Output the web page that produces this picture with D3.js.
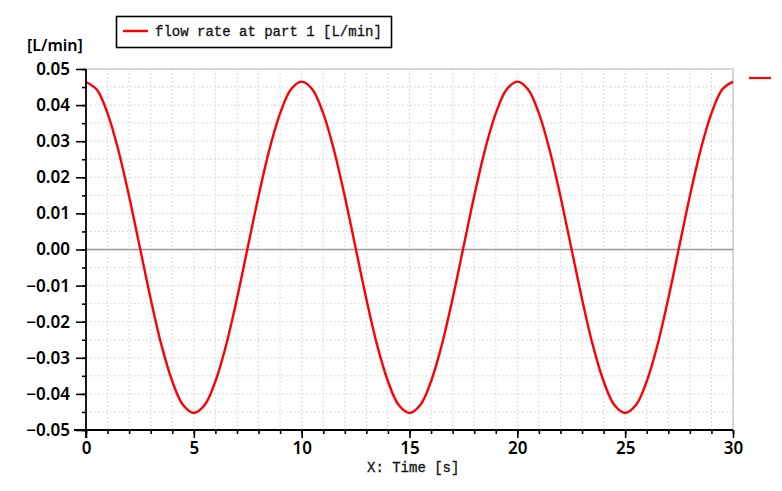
<!DOCTYPE html>
<html>
<head>
<meta charset="utf-8">
<script src="https://cdn.jsdelivr.net/npm/d3@7"></script>
<style>
  html, body { margin: 0; padding: 0; background: #fff; }
  svg { display: block; }
</style>
</head>
<body>
<div id="chart"></div>
<script>
// time samples [s] and flow rate values [L/min]
const time = [
  0, 0.5, 1, 1.5, 2, 2.5, 3, 3.5, 4, 4.5,
  5, 5.5, 6, 6.5, 7, 7.5, 8, 8.5, 9, 9.5,
  10, 10.5, 11, 11.5, 12, 12.5, 13, 13.5, 14, 14.5,
  15, 15.5, 16, 16.5, 17, 17.5, 18, 18.5, 19, 19.5,
  20, 20.5, 21, 21.5, 22, 22.5, 23, 23.5, 24, 24.5,
  25, 25.5, 26, 26.5, 27, 27.5, 28, 28.5, 29, 29.5, 30
];
const flow = [
  0.0464, 0.0443, 0.0377, 0.0275, 0.0147, 0.0005, -0.0137, -0.0265, -0.0365, -0.0431,
  -0.0453, -0.0431, -0.0365, -0.0264, -0.0136, 0.0006, 0.0148, 0.0276, 0.0377, 0.0443,
  0.0465, 0.0443, 0.0377, 0.0275, 0.0147, 0.0005, -0.0137, -0.0265, -0.0365, -0.0431,
  -0.0453, -0.0431, -0.0365, -0.0264, -0.0136, 0.0006, 0.0148, 0.0276, 0.0377, 0.0443,
  0.0465, 0.0443, 0.0377, 0.0275, 0.0147, 0.0005, -0.0137, -0.0265, -0.0365, -0.0431,
  -0.0453, -0.0431, -0.0365, -0.0264, -0.0136, 0.0006, 0.0148, 0.0276, 0.0377, 0.0443, 0.0465
];
const xTicks = [0, 5, 10, 15, 20, 25, 30];
const yTicks = [0.05, 0.04, 0.03, 0.02, 0.01, 0, -0.01, -0.02, -0.03, -0.04, -0.05];
const seriesName = 'flow rate at part 1 [L/min]';
const yLabel = '[L/min]';
const xLabel = 'X: Time [s]';

const width = 782, height = 491;
const margin = {top: 69, right: 49, bottom: 61, left: 86};
const sans = '"Noto Sans", "Noto Sans CJK SC", sans-serif';
const mono = '"Liberation Mono", "DejaVu Sans Mono", monospace';

const x = d3.scaleLinear().domain([0, 30]).range([margin.left, width - margin.right]);
const y = d3.scaleLinear().domain([-0.05, 0.05]).range([height - margin.bottom, margin.top]);

const svg = d3.select('#chart').append('svg')
  .attr('width', width)
  .attr('height', height)
  .attr('viewBox', [0, 0, width, height]);

// dotted grid at every minor step
const xMinor = d3.range(0, 31, 1);
const yMinor = d3.range(-50, 51, 5).map(v => v / 1000);

svg.append('g')
  .attr('stroke', '#cfcfcf')
  .attr('stroke-width', 1)
  .attr('stroke-dasharray', '1.5,2.5')
  .call(g => g.selectAll('line.v')
    .data(xMinor.slice(1, -1))
    .join('line')
    .attr('class', 'v')
    .attr('x1', d => x(d)).attr('x2', d => x(d))
    .attr('y1', y(0.05)).attr('y2', y(-0.05)))
  .call(g => g.selectAll('line.h')
    .data(yMinor.slice(1, -1).filter(d => d !== 0))
    .join('line')
    .attr('class', 'h')
    .attr('x1', x(0)).attr('x2', x(30))
    .attr('y1', d => y(d)).attr('y2', d => y(d)));

// top and right frame
svg.append('path')
  .attr('fill', 'none')
  .attr('stroke', '#c8c8c8')
  .attr('stroke-width', 1.5)
  .attr('d', `M${x(0)},${y(0.05)}H${x(30)}V${y(-0.05)}`);

// zero line
svg.append('line')
  .attr('stroke', '#999')
  .attr('stroke-width', 1.5)
  .attr('x1', x(0)).attr('x2', x(30))
  .attr('y1', y(0)).attr('y2', y(0));

// curve
const line = d3.line()
  .x((d, i) => x(time[i]))
  .y(d => y(d))
  .curve(d3.curveCatmullRom);

svg.append('path')
  .datum(flow)
  .attr('fill', 'none')
  .attr('stroke', '#ff0000')
  .attr('stroke-width', 2.4)
  .attr('d', line);

// x axis
const gx = svg.append('g')
  .attr('transform', `translate(0,${y(-0.05)})`);
gx.call(d3.axisBottom(x).tickValues(xMinor).tickSize(4).tickFormat(''))
  .call(g => g.select('.domain').remove());
gx.append('g')
  .call(d3.axisBottom(x).tickValues(xTicks).tickSize(8).tickPadding(4).tickFormat(d3.format('d')))
  .call(g => g.select('.domain').remove());
gx.append('line')
  .attr('stroke', '#000')
  .attr('stroke-width', 1.8)
  .attr('x1', x(0) - 12).attr('x2', x(30));
gx.selectAll('.tick line').attr('stroke', '#000').attr('stroke-width', 1.6);
gx.selectAll('.tick text')
  .attr('fill', '#000')
  .style('font-family', sans)
  .style('font-size', '17px')
  .style('font-weight', 600);

// y axis
const gy = svg.append('g')
  .attr('transform', `translate(${x(0)},0)`);
gy.call(d3.axisLeft(y).tickValues(yMinor).tickSize(4).tickFormat(''))
  .call(g => g.select('.domain').remove());
gy.append('g')
  .call(d3.axisLeft(y).tickValues(yTicks).tickSize(10).tickPadding(6).tickFormat(d3.format('.2f')))
  .call(g => g.select('.domain').remove());
gy.append('line')
  .attr('stroke', '#000')
  .attr('stroke-width', 1.8)
  .attr('y1', y(0.05)).attr('y2', y(-0.05) + 8);
gy.selectAll('.tick line').attr('stroke', '#000').attr('stroke-width', 1.6);
gy.selectAll('.tick text')
  .attr('fill', '#000')
  .style('font-family', sans)
  .style('font-size', '17px')
  .style('font-weight', 600);

// axis titles
svg.append('text')
  .attr('x', 27)
  .attr('y', 51)
  .style('font-family', sans)
  .style('font-size', '16px')
  .style('font-weight', 600)
  .text(yLabel);

svg.append('text')
  .attr('x', 367)
  .attr('y', 472)
  .style('font-family', mono)
  .style('font-size', '14px')
  .attr('fill', '#111')
  .attr('stroke', '#111')
  .attr('stroke-width', 0.3)
  .text(xLabel);

// legend
const legend = svg.append('g');
legend.append('rect')
  .attr('x', 116.5).attr('y', 16.5)
  .attr('width', 275).attr('height', 31)
  .attr('fill', '#fff')
  .attr('stroke', '#000')
  .attr('stroke-width', 1.6);
legend.append('line')
  .attr('x1', 123).attr('x2', 148)
  .attr('y1', 31).attr('y2', 31)
  .attr('stroke', '#ff0000')
  .attr('stroke-width', 2.4);
legend.append('text')
  .attr('x', 155)
  .attr('y', 36)
  .style('font-family', mono)
  .style('font-size', '14px')
  .attr('fill', '#111')
  .attr('stroke', '#111')
  .attr('stroke-width', 0.3)
  .text(seriesName);

// clipped marker of a second legend at the right edge
svg.append('line')
  .attr('x1', 749).attr('x2', 771)
  .attr('y1', 78).attr('y2', 78)
  .attr('stroke', '#ff0000')
  .attr('stroke-width', 2.2);
</script>
</body>
</html>
